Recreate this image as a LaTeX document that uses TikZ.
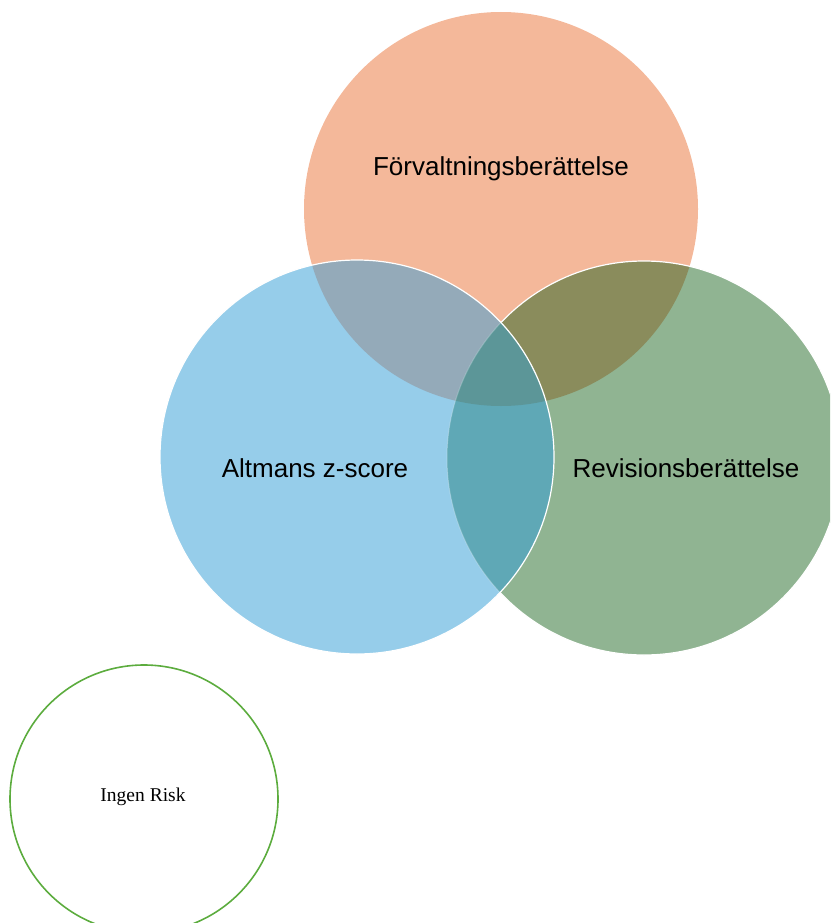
\documentclass[tikz,border=0pt]{standalone}
\usepackage{fontspec}
\setmainfont{Liberation Sans}
\newfontfamily\serifrm{Liberation Serif}
\definecolor{corange}{RGB}{244,184,154}
\definecolor{cblue}{RGB}{150,205,234}
\definecolor{cgreen}{RGB}{144,180,146}
\definecolor{cob}{RGB}{148,170,185}
\definecolor{cog}{RGB}{138,140,92}
\definecolor{cbg}{RGB}{95,168,182}
\definecolor{cobg}{RGB}{92,150,152}
\definecolor{ringgreen}{RGB}{92,172,62}
\begin{document}
\begin{tikzpicture}[x=1pt,y=-1pt,
  lbl/.style={font=\fontsize{26}{30}\selectfont, text=black},
  rim/.style={draw=white, line width=1.2pt}]
\useasboundingbox (0,0) rectangle (830,923);
\clip (0,0) rectangle (830,923);
\def\R{197}
\coordinate (O) at (501,209);
\coordinate (G) at (644,458);
\coordinate (B) at (357,457);
% orange
\fill[corange] (O) circle (\R);
% green
\fill[cgreen] (G) circle (\R);
\begin{scope}\clip (G) circle (\R); \fill[cog] (O) circle (\R);\end{scope}
\draw[rim] (G) circle (\R);
% blue
\fill[cblue] (B) circle (\R);
\begin{scope}\clip (B) circle (\R); \fill[cob] (O) circle (\R);\end{scope}
\begin{scope}\clip (B) circle (\R); \fill[cbg] (G) circle (\R);\end{scope}
\begin{scope}\clip (B) circle (\R); \clip (G) circle (\R); \fill[cobg] (O) circle (\R);\end{scope}
\begin{scope}\clip (B) circle (\R); \draw[white, opacity=0.25, line width=1pt] (G) circle (\R);\end{scope}
\draw[rim] (B) circle (\R);
% labels
\node[lbl] (lo) at (501,169) {Förvaltningsberättelse};
\node[lbl] (lb) at (315,468) {Altmans z-score};
\node[lbl] (lg) at (686,468) {Revisionsberättelse};
% Ingen Risk
\node[draw=ringgreen, line width=1.6pt, circle, minimum size=268pt, inner sep=0pt] (ir) at (144,799) {};
\node[font=\serifrm\fontsize{19.5}{22}\selectfont] (irt) at (143,797) {Ingen Risk};
\end{tikzpicture}
\end{document}
